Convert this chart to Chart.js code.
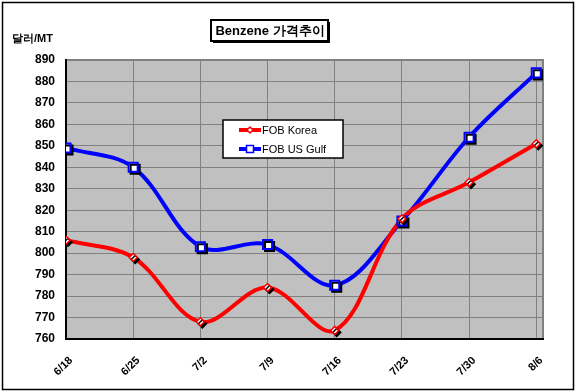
<!DOCTYPE html>
<html>
<head>
<meta charset="utf-8">
<script src="https://cdn.jsdelivr.net/npm/chart.js@4.4.1/dist/chart.umd.min.js"></script>
<style>
html,body{margin:0;padding:0;background:#fff;}
#c{display:block;}
</style>
</head>
<body>
<canvas id="c" width="576" height="392"></canvas>
<script>
const TITLE = 'Benzene 가격추이';
const UNIT = '달러/MT';
const CATEGORIES = ['6/18','6/25','7/2','7/9','7/16','7/23','7/30','8/6'];
const KOREA = [806, 798, 768, 784, 764, 816, 833, 851];
const USGULF = [849, 840, 803, 804, 785, 815, 854, 884];
const SERIES_NAMES = ['FOB Korea', 'FOB US Gulf'];
const Y_MIN = 760, Y_MAX = 890, Y_STEP = 10;

const FONT = 'Arial, "Liberation Sans", sans-serif';
const toXY = arr => arr.map((v, i) => ({x: i, y: v}));

const bgPlugin = {
  id: 'bg',
  beforeDraw(chart) {
    const {ctx, chartArea: a} = chart;
    ctx.save();
    ctx.fillStyle = '#fff';
    ctx.fillRect(0, 0, chart.width, chart.height);
    ctx.strokeStyle = '#000';
    ctx.lineWidth = 1.5;
    ctx.strokeRect(2.5, 2.5, 571, 387);
    ctx.fillStyle = '#c0c0c0';
    ctx.fillRect(a.left, a.top, a.right - a.left, a.bottom - a.top);
    ctx.strokeStyle = '#808080';
    ctx.lineWidth = 2;
    ctx.strokeRect(a.left, a.top, a.right - a.left, a.bottom - a.top);
    ctx.restore();
  },
  afterDraw(chart) {
    const ctx = chart.ctx;
    ctx.save();
    // title box
    ctx.font = 'bold 13px ' + FONT;
    const tw = ctx.measureText(TITLE).width;
    const cx = 270;
    const bx = Math.round(cx - tw / 2 - 4), by = 20, bw = Math.round(tw + 8), bh = 21;
    ctx.fillStyle = '#000';
    ctx.fillRect(bx + 2, by + 2, bw, bh);
    ctx.fillStyle = '#fff';
    ctx.fillRect(bx, by, bw, bh);
    ctx.strokeStyle = '#000';
    ctx.lineWidth = 2;
    ctx.strokeRect(bx, by, bw, bh);
    ctx.fillStyle = '#000';
    ctx.textAlign = 'center';
    ctx.textBaseline = 'middle';
    ctx.fillText(TITLE, cx, by + bh / 2 + 1);
    // unit label
    ctx.font = 'bold 11px ' + FONT;
    ctx.textAlign = 'left';
    ctx.fillText(UNIT, 12, 39);
    // legend
    const lx = 223, ly = 120, lw = 120, lh = 38;
    ctx.fillStyle = '#fff';
    ctx.fillRect(lx, ly, lw, lh);
    ctx.strokeStyle = '#000';
    ctx.lineWidth = 1.5;
    ctx.strokeRect(lx, ly, lw, lh);
    const lines = chart.data.datasets.filter(d => d.isLine);
    lines.forEach((d, i) => {
      const yy = ly + 10 + i * 19;
      ctx.strokeStyle = d.borderColor;
      ctx.lineWidth = 4;
      ctx.beginPath();
      ctx.moveTo(239, yy);
      ctx.lineTo(261, yy);
      ctx.stroke();
      ctx.fillStyle = '#fff';
      ctx.strokeStyle = d.borderColor;
      ctx.lineWidth = 1.5;
      ctx.beginPath();
      if (d.legendStyle === 'rectRot') {
        const r = 3;
        ctx.moveTo(250, yy - r); ctx.lineTo(250 + r, yy); ctx.lineTo(250, yy + r); ctx.lineTo(250 - r, yy); ctx.closePath();
      } else {
        ctx.rect(246.5, yy - 3.5, 7, 7);
      }
      ctx.fill();
      ctx.stroke();
      ctx.fillStyle = '#000';
      ctx.font = '11px ' + FONT;
      ctx.textAlign = 'left';
      ctx.textBaseline = 'middle';
      ctx.fillText(d.label, 262, yy + 1);
    });
    ctx.restore();
  }
};

const shadowPlugin = {
  id: 'markerShadow',
  beforeDatasetDraw(chart, args) {
    const ds = chart.data.datasets[args.index];
    if (ds.isMarker) {
      const ctx = chart.ctx;
      ctx.save();
      ctx.shadowColor = '#000';
      ctx.shadowOffsetX = 2;
      ctx.shadowOffsetY = 2;
      ctx.shadowBlur = 0;
    }
  },
  afterDatasetDraw(chart, args) {
    const ds = chart.data.datasets[args.index];
    if (ds.isMarker) chart.ctx.restore();
  }
};

const lineDs = (label, data, color, style) => ({
  label, data: toXY(data), borderColor: color, backgroundColor: color,
  borderWidth: 4, tension: 0.35, pointRadius: 0, fill: false,
  isLine: true, legendStyle: style, order: 3
});
const markerDs = (label, data, color, style, r, bw) => ({
  label, data: toXY(data), showLine: false, borderColor: color,
  backgroundColor: '#fff', pointStyle: style, pointRadius: r,
  pointBorderWidth: bw, isMarker: true, order: 1
});

new Chart(document.getElementById('c'), {
  type: 'line',
  data: {
    datasets: [
      lineDs(SERIES_NAMES[0], KOREA, '#ff0000', 'rectRot'),
      lineDs(SERIES_NAMES[1], USGULF, '#0000ff', 'rect'),
      markerDs(SERIES_NAMES[0], KOREA, '#ff0000', 'rectRot', 4, 1.5),
      markerDs(SERIES_NAMES[1], USGULF, '#0000ff', 'rect', 6.4, 2)
    ]
  },
  options: {
    responsive: false,
    animation: false,
    devicePixelRatio: 1,
    layout: {padding: {left: 0, top: 60, right: 33, bottom: 0}},
    plugins: {legend: {display: false}, title: {display: false}, tooltip: {enabled: false}},
    scales: {
      x: {
        type: 'linear', min: 0, max: 7.1,
        afterFit: s => { s.height = 392 - 339; },
        border: {display: true, color: '#000', width: 2},
        grid: {color: '#808080', lineWidth: 1, drawTicks: false},
        ticks: {
          stepSize: 1, includeBounds: false, autoSkip: false,
          minRotation: 45, maxRotation: 45, padding: 15, labelOffset: 5,
          color: '#000', font: {family: FONT, size: 11, weight: 'bold'},
          callback: v => (Number.isInteger(v) && CATEGORIES[v] !== undefined) ? CATEGORIES[v] : ''
        }
      },
      y: {
        min: Y_MIN, max: Y_MAX,
        afterFit: s => { s.width = 66; },
        border: {display: true, color: '#000', width: 2},
        grid: {color: '#808080', lineWidth: 1, drawTicks: false},
        ticks: {
          stepSize: Y_STEP, padding: 11, color: '#000',
          font: {family: FONT, size: 12, weight: 'bold'}
        }
      }
    }
  },
  plugins: [bgPlugin, shadowPlugin]
});
</script>
</body>
</html>
